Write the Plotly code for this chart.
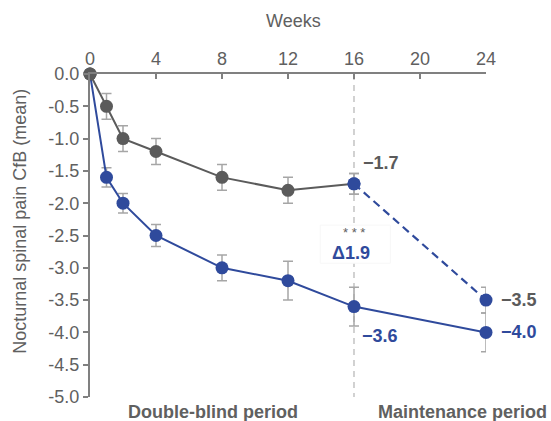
import plotly.graph_objects as go

# Weeks and mean change from baseline, with error half-widths
weeks_placebo = [0, 1, 2, 4, 8, 12, 16]
placebo = [0.0, -0.5, -1.0, -1.2, -1.6, -1.8, -1.7]
placebo_err = [0.0, 0.2, 0.2, 0.2, 0.2, 0.2, 0.16]

weeks_active = [0, 1, 2, 4, 8, 12, 16, 24]
active = [0.0, -1.6, -2.0, -2.5, -3.0, -3.2, -3.6, -4.0]
active_err = [0.0, 0.15, 0.15, 0.17, 0.2, 0.3, 0.3, 0.3]

weeks_switch = [16, 24]
switch = [-1.7, -3.5]
switch_err = [0.16, 0.2]

x_ticks = [0, 4, 8, 12, 16, 20, 24]
y_ticks = [0.0, -0.5, -1.0, -1.5, -2.0, -2.5, -3.0, -3.5, -4.0, -4.5, -5.0]
y_ticktext = [f"{v:.1f}" for v in y_ticks]

GREY = "#5b5b5b"
TEXT = "#606060"
BLUE = "#2f4a9c"
ERR = "#a6a6a6"
AXIS = "#808080"
FONT = "Liberation Sans, Arial, sans-serif"

fig = go.Figure()

# Placebo arm
fig.add_trace(go.Scatter(
    x=weeks_placebo, y=placebo, mode="lines+markers",
    line=dict(color=GREY, width=2),
    marker=dict(color=[GREY] * 6 + [BLUE], size=13),
    error_y=dict(type="data", array=placebo_err, color=ERR, thickness=1.5, width=5),
    cliponaxis=False, showlegend=False,
))

# Switch to active treatment during maintenance
fig.add_trace(go.Scatter(
    x=weeks_switch, y=switch, mode="lines+markers",
    line=dict(color=BLUE, width=2.2, dash="8px,5px"),
    marker=dict(color=BLUE, size=13),
    error_y=dict(type="data", array=switch_err, color=ERR, thickness=1.5, width=5),
    cliponaxis=False, showlegend=False,
))

# Active arm
fig.add_trace(go.Scatter(
    x=weeks_active, y=active, mode="lines+markers",
    line=dict(color=BLUE, width=2),
    marker=dict(color=[GREY] + [BLUE] * 7, size=13),
    error_y=dict(type="data", array=active_err, color=ERR, thickness=1.5, width=5),
    cliponaxis=False, showlegend=False,
))

# Baseline marker on top
fig.add_trace(go.Scatter(
    x=[0], y=[0.0], mode="markers", marker=dict(color=GREY, size=13),
    cliponaxis=False, showlegend=False,
))

# End of double-blind period
fig.add_shape(type="line", x0=16, x1=16, y0=0, y1=-5.05, xref="x", yref="y",
              line=dict(color="#b4b4b4", width=1.2, dash="6px,5px"), layer="below")

# White box behind the difference label
fig.add_shape(type="rect", x0=13.95, x1=18.2, y0=-2.34, y1=-2.93, xref="x", yref="y",
              fillcolor="white", line=dict(color="#f7f7f7", width=1), layer="below")

def value_label(x, y, text, color, xshift, yshift):
    fig.add_annotation(x=x, y=y, text=f"<b>{text}</b>", showarrow=False,
                       xanchor="left", xshift=xshift, yshift=yshift,
                       font=dict(family=FONT, size=18, color=color))

value_label(16, placebo[-1], "\u22121.7", GREY, 7, 21)
value_label(16, active[6], "\u22123.6", BLUE, 6, -29)
value_label(24, switch[-1], "\u22123.5", GREY, 13, 0)
value_label(24, active[-1], "\u22124.0", BLUE, 13, 0)

diff = round(placebo[-1] - active[6], 1)
fig.add_annotation(x=16, y=-2.45, text="* * *", showarrow=False,
                   xanchor="center", yanchor="middle",
                   font=dict(family=FONT, size=13, color=TEXT))
fig.add_annotation(x=16, y=-2.77, text=f"<b>\u0394{abs(diff):.1f}</b>", showarrow=False,
                   xanchor="center", yanchor="middle", xshift=-3,
                   font=dict(family=FONT, size=18, color=BLUE))

for text, xp in [("Double-blind period", 0.310), ("Maintenance period", 0.940)]:
    fig.add_annotation(x=xp, y=-0.046, xref="paper", yref="paper", text=f"<b>{text}</b>",
                       showarrow=False, xanchor="center", yanchor="middle",
                       font=dict(family=FONT, size=18, color=TEXT))

fig.add_annotation(x=0.513, y=1.164, xref="paper", yref="paper", text="Weeks",
                   showarrow=False, xanchor="center", yanchor="middle",
                   font=dict(family=FONT, size=18, color=TEXT))
fig.add_annotation(x=-0.177, y=0.545, xref="paper", yref="paper",
                   text="Nocturnal spinal pain CfB (mean)", textangle=-90,
                   showarrow=False, xanchor="center", yanchor="middle",
                   font=dict(family=FONT, size=18, color=TEXT))

fig.update_layout(
    width=551, height=421,
    margin=dict(l=90, r=65, t=74, b=24),
    paper_bgcolor="white", plot_bgcolor="white",
    font=dict(family=FONT, size=18, color=TEXT),
    xaxis=dict(
        side="top", range=[0, 24], tickvals=x_ticks, showgrid=False, zeroline=False,
        showline=True, linecolor=AXIS, linewidth=2,
        ticks="inside", ticklen=5, tickcolor=AXIS, tickwidth=1.5,
        tickfont=dict(size=18, color=TEXT),
    ),
    yaxis=dict(
        range=[-5, 0], tickvals=y_ticks, ticktext=y_ticktext, showgrid=False, zeroline=False,
        showline=True, linecolor=AXIS, linewidth=2,
        ticks="outside", ticklen=5, tickcolor=AXIS, tickwidth=1.5,
        tickfont=dict(size=18, color=TEXT),
    ),
)

fig.write_html("out.html")
